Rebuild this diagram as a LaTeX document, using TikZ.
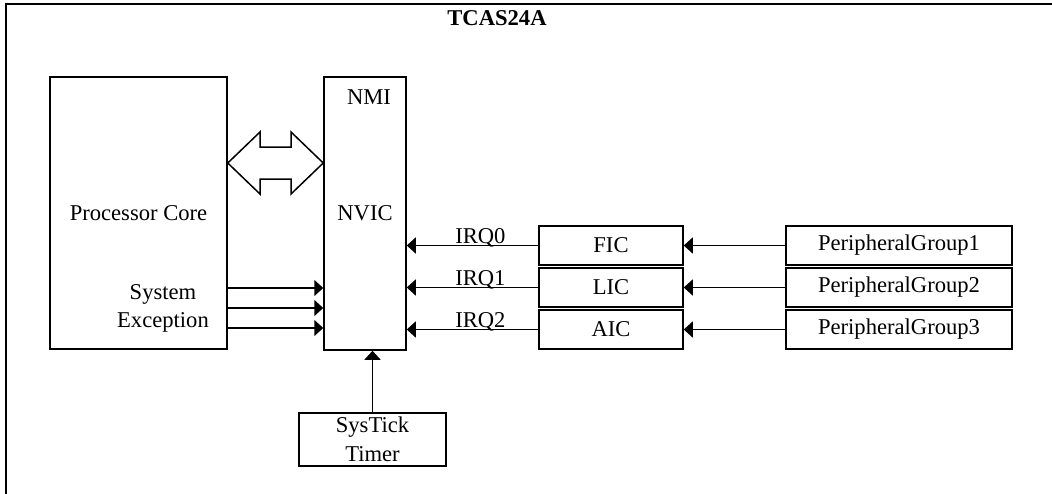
\documentclass[tikz,border=0pt]{standalone}
\usepackage{fontspec}
\setmainfont{Liberation Serif}
\usetikzlibrary{arrows.meta,positioning}

\begin{document}
\begin{tikzpicture}[x=0.5pt,y=-0.5pt,
  blkbox/.style={rectangle,draw=black,line width=0.75pt,inner sep=0pt,align=center,font=\fontsize{11.3}{14.5}\selectfont},
  icbox/.style={blkbox,minimum width=72pt,minimum height=19.5pt},
  periphbox/.style={blkbox,minimum width=113pt,minimum height=19.5pt},
  lbl/.style={inner sep=0.5pt,font=\fontsize{11.3}{13}\selectfont},
  irq/.style={-{Triangle[length=4.5pt,width=8pt]},line width=0.75pt,draw=black}]
  \useasboundingbox (0,0) rectangle (1052,493);
  \draw[line width=1.2pt] (6,520) -- (6,4) -- (1080,4);
  \node[lbl,font=\fontsize{11.3}{13}\selectfont\bfseries] (title) at (497,18) {TCAS24A};

  \node[blkbox,minimum width=88.5pt,minimum height=136pt] (core) at (138.5,213) {Processor Core};
  \node[blkbox,minimum width=41pt,minimum height=136.5pt] (nvic) at (365,213.5) {NVIC};
  \node[lbl] (nmi) at (369,97) {NMI};
  \node[lbl,align=center,font=\fontsize{11.3}{14}\selectfont] (sysexc) at (163,308) {System\\Exception};

  \node[icbox] (fic) at (611,245.5) {FIC};
  \node[icbox] (lic) at (611,287.5) {LIC};
  \node[icbox] (aic) at (611,329.5) {AIC};
  \node[periphbox] (pg1) at (899,245.5) {PeripheralGroup1};
  \node[periphbox] (pg2) at (899,287.5) {PeripheralGroup2};
  \node[periphbox] (pg3) at (899,329.5) {PeripheralGroup3};
  \node[blkbox,minimum width=73.5pt,minimum height=26.5pt] (systick) at (372.5,439.5) {SysTick\\Timer};

  % bus between core and NVIC
  \draw[line width=0.75pt,fill=white] (core.east |- 0,163) -- (260,132) -- (260,147) -- (291,147) -- (291,132)
    -- (nvic.west |- 0,163) -- (291,194) -- (291,179) -- (260,179) -- (260,194) -- cycle;

  \draw[irq] (core.east |- 0,288) -- (nvic.west |- 0,288);
  \draw[irq] (core.east |- 0,308) -- (nvic.west |- 0,308);
  \draw[irq] (core.east |- 0,328) -- (nvic.west |- 0,328);

  \draw[irq] (fic.west) -- node[lbl,pos=0.44,above,inner sep=0pt,yshift=-1pt] {IRQ0} (nvic.east |- fic.west);
  \draw[irq] (lic.west) -- node[lbl,pos=0.44,above,inner sep=0pt,yshift=-1pt] {IRQ1} (nvic.east |- lic.west);
  \draw[irq] (aic.west) -- node[lbl,pos=0.44,above,inner sep=0pt,yshift=-1pt] {IRQ2} (nvic.east |- aic.west);

  \draw[irq] (pg1) -- (fic);
  \draw[irq] (pg2) -- (lic);
  \draw[irq] (pg3) -- (aic);

  \draw[irq] (systick.north) -- (systick.north |- nvic.south);
\end{tikzpicture}
\end{document}
